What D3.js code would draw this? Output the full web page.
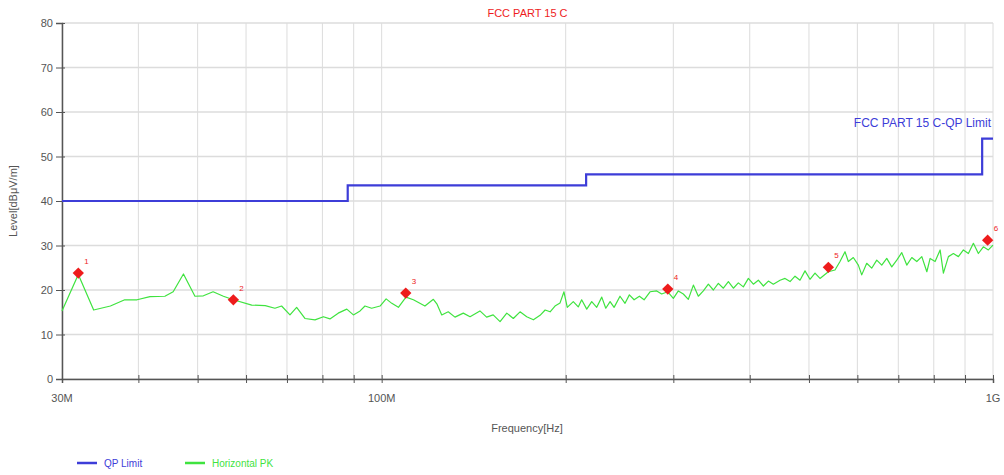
<!DOCTYPE html>
<html><head><meta charset="utf-8">
<script src="https://cdn.jsdelivr.net/npm/d3@7"></script>
<style>
body{margin:0;background:#fff;}
text{font-family:"Liberation Sans Narrow","Arial Narrow","Liberation Sans",Arial,sans-serif;}
</style></head>
<body><svg id="c" width="1004" height="475"></svg>
<script>
// ---- data ----
const title = "FCC PART 15 C";
const yTicks = [0,10,20,30,40,50,60,70,80];
const xGrid = [30,40,50,60,70,80,90,100,200,300,400,500,600,700,800,900,1000]; // MHz
const xLabels = [[30,"30M"],[100,"100M"],[1000,"1G"]];
// QP limit steps [MHz, dBuV/m]
const limitFreq = [30,88,88,216,216,960,960,1000];
const limitLevel = [40,40,43.5,43.5,46,46,54,54];
// Horizontal PK trace
const pkFreq = [30.0,31.9,33.8,36.0,38.0,39.8,41.8,44.2,45.6,47.4,49.5,51.1,53.0,55.1,57.2,61.3,64.5,66.9,68.6,70.8,72.6,74.9,77.8,80.3,82.3,84.9,87.7,89.9,92.2,93.9,96.3,99.4,101.7,103.9,106.5,109.6,112.7,117.7,121.5,123.1,125.4,128.5,131.8,136.0,139.5,144.8,148.5,152.2,156.2,160.2,164.2,168.4,172.7,177.1,181.6,185.1,188.6,192.1,195.8,198.7,201.2,205.8,209.7,212.4,216.5,220.6,224.8,229.1,232.6,236.4,240.0,245.4,250.1,254.2,258.8,264.0,268.7,274.8,281.8,287.1,293.8,300.0,305.7,311.5,317.4,323.5,329.6,335.9,342.3,348.8,355.4,362.2,369.1,376.1,383.2,390.5,398.0,405.5,413.2,421.1,429.1,437.2,448.4,456.9,465.6,474.4,483.4,492.6,501.9,511.5,521.2,537.8,551.5,562.0,572.7,579.9,590.9,602.2,609.9,621.5,633.3,645.4,657.7,670.2,683.0,696.0,709.2,722.7,736.5,750.5,764.8,779.4,789.1,804.1,819.4,829.6,845.4,861.4,877.8,894.5,911.5,928.8,946.4,964.3,982.7,1000];
const pkLevel = [15.3,23.5,15.5,16.4,17.8,17.8,18.5,18.6,19.6,23.6,18.6,18.7,19.6,18.6,17.8,16.6,16.5,15.9,16.4,14.4,16.1,13.6,13.3,14.0,13.5,14.8,15.7,14.4,15.3,16.4,15.9,16.4,18.0,17.0,16.1,18.4,17.8,16.4,17.9,16.9,14.4,15.1,13.9,14.8,14.0,15.3,13.9,14.4,12.9,14.8,13.6,15.1,14.0,13.3,14.3,15.5,15.1,16.4,17.1,19.6,16.1,17.4,16.2,17.8,15.7,17.4,16.1,18.4,15.9,17.4,16.1,18.6,17.0,18.9,17.8,18.6,17.8,19.6,19.8,19.1,19.6,18.1,19.8,19.1,17.9,21.1,18.6,19.8,21.3,20.0,21.5,20.4,21.9,20.4,21.6,20.7,22.6,21.3,22.2,20.9,22.0,21.3,22.2,22.6,21.9,23.1,22.2,24.3,22.4,23.8,22.6,24.1,24.5,26.4,28.6,26.4,27.3,25.6,23.4,26.0,24.9,26.7,25.6,27.1,25.2,26.7,28.4,25.6,27.3,26.4,27.5,24.1,27.1,26.4,29.0,23.8,27.5,28.2,27.5,29.0,28.2,30.5,28.2,29.7,29.0,30.1];
// markers
const markerId = ["1","2","3","4","5","6"];
const markerFreq = [31.9,57.2,109.5,293.8,537.9,980.0];
const markerLevel = [23.8,17.8,19.3,20.2,25.1,31.2];
const legendNames = ["QP Limit","Horizontal PK"];
const limitLabel = "FCC PART 15 C-QP Limit";

// ---- drawing ----
const svg = d3.select("#c");
const m = {l:62, r:11, t:23, b:96};
const W = 1004, H = 475;
const x = d3.scaleLog().domain([30,1000]).range([m.l, W-m.r]);
const y = d3.scaleLinear().domain([0,80]).range([H-m.b, m.t]);
const blue = "#3d3dd8", green = "#3fe33f", red = "#ee1c1c", grid = "#dcdcdc", axisC = "#555";

// grid
svg.append("g").selectAll("line").data(xGrid).join("line")
  .attr("x1",d=>x(d)).attr("x2",d=>x(d)).attr("y1",y(0)).attr("y2",y(80))
  .attr("stroke",grid).attr("stroke-width",1);
svg.append("g").selectAll("line").data(yTicks).join("line")
  .attr("x1",x(30)).attr("x2",x(1000)).attr("y1",d=>y(d)).attr("y2",d=>y(d))
  .attr("stroke",grid).attr("stroke-width",1.5);

// axes
const yAx = d3.axisLeft(y).tickValues(yTicks).tickSize(6).tickPadding(3);
const gy = svg.append("g").attr("transform",`translate(${m.l},0)`).call(yAx);
gy.select(".domain").attr("stroke",axisC).attr("stroke-width",1.5);
gy.selectAll(".tick line").attr("stroke",axisC).attr("x2",-6).attr("x1",3);
gy.selectAll("text").attr("fill","#555").attr("font-size",11)
  .style("font-family",'"Liberation Sans Narrow","Arial Narrow","Liberation Sans",sans-serif');

const xAx = d3.axisBottom(x).tickValues(xGrid).tickSize(4).tickFormat("");
const gx = svg.append("g").attr("transform",`translate(0,${y(0)})`).call(xAx);
gx.select(".domain").attr("stroke",axisC).attr("stroke-width",1.5);
gx.selectAll(".tick line").attr("stroke",axisC).attr("y1",-4).attr("y2",4);
svg.append("g").selectAll("text").data(xLabels).join("text")
  .attr("x",d=>x(d[0])).attr("y",y(0)+23).attr("text-anchor","middle")
  .attr("font-size",11).attr("fill","#555").text(d=>d[1]);

// axis titles
svg.append("text").attr("x",527).attr("y",432).attr("text-anchor","middle")
  .attr("font-size",11).attr("fill","#555").text("Frequency[Hz]");
svg.append("text").attr("transform",`translate(17,${(y(0)+y(80))/2}) rotate(-90)`)
  .attr("text-anchor","middle").attr("font-size",11).attr("fill","#555").text("Level[dBμV/m]");
svg.append("text").attr("x",(x(30)+x(1000))/2).attr("y",17).attr("text-anchor","middle")
  .attr("font-size",11).attr("fill",red).text(title);

// limit line
const lim = limitFreq.map((f,i)=>[f,limitLevel[i]]);
svg.append("path").datum(lim).attr("fill","none").attr("stroke",blue).attr("stroke-width",2.2)
  .attr("d",d3.line().x(d=>x(d[0])).y(d=>y(d[1])));
svg.append("text").attr("x",x(1000)-2).attr("y",y(54)-12).attr("text-anchor","end")
  .attr("font-size",12).attr("fill",blue).text(limitLabel);

// PK trace
const pk = pkFreq.map((f,i)=>[f,pkLevel[i]]);
svg.append("path").datum(pk).attr("fill","none").attr("stroke",green).attr("stroke-width",1.2)
  .attr("stroke-linejoin","round")
  .attr("d",d3.line().x(d=>x(d[0])).y(d=>y(d[1])));

// markers
const mk = markerFreq.map((f,i)=>({f,l:markerLevel[i],id:markerId[i]}));
svg.append("g").selectAll("path").data(mk).join("path")
  .attr("transform",d=>`translate(${x(d.f)},${y(d.l)}) rotate(45)`)
  .attr("d","M-4,-4H4V4H-4Z").attr("fill",red);
svg.append("g").selectAll("text").data(mk).join("text")
  .attr("x",d=>x(d.f)+6).attr("y",d=>y(d.l)-9).attr("font-size",8).attr("fill",red).text(d=>d.id);

// legend
const lg = svg.append("g");
[[77,blue,legendNames[0]],[185,green,legendNames[1]]].forEach(([lx,c,t])=>{
  lg.append("line").attr("x1",lx).attr("x2",lx+20).attr("y1",463).attr("y2",463).attr("stroke",c).attr("stroke-width",2.5);
  lg.append("text").attr("x",lx+27).attr("y",467).attr("font-size",10).attr("fill",c).text(t);
});
</script></body></html>
